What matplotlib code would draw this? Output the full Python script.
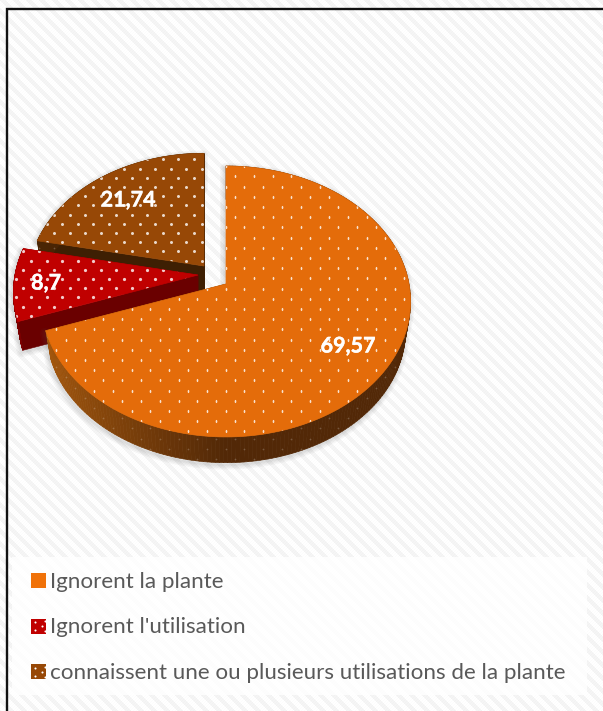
import numpy as np
import matplotlib
matplotlib.use("Agg")
import matplotlib.pyplot as plt
import matplotlib.patheffects as pe
from matplotlib.patches import Polygon, Rectangle
from matplotlib.collections import PolyCollection
from matplotlib.colors import to_rgb

# Survey shares, in percent
categories = ["Ignorent la plante", "Ignorent l'utilisation",
              "connaissent une ou plusieurs utilisations de la plante"]
values = [69.57, 8.7, 21.74]
value_labels = ["69,57", "8,7", "21,74"]

top_colors = ["#E46C0A", "#C00000", "#974806"]
cut_colors = ["#5A2C06", "#6A0000", "#3E1F03"]
wall_light = ["#A85A0E", "#7C0000", "#4A2504"]
wall_dark = ["#522807", "#5E0000", "#3A1C03"]

# Where each exploded slice has its apex, its scale and its dot spacing
apexes = [(226, 284), (198, 275), (204, 266)]
scales = [1.0, 1.0, 0.955]
dot_pitch = [(18.8, 10.2), (15.5, 9.2), (15.5, 9.2)]
dot_shape = [(0.85, 1.6), (1.6, 1.6), (1.5, 1.5)]
label_pos = [(348, 346), (46, 283), (128, 200)]

A, B, K = 183.0, 133.2, 0.129
DEPTH = 30.0
W, H = 603, 711


def project(angle, radius, apex, scale, lower=False):
    """Perspective projection of a point on the tilted pie disc."""
    u = radius * np.sin(angle)
    v = radius * np.cos(angle)
    d = 1 + K * v
    shrink = 0.972 if lower else 1.0
    x = apex[0] + scale * shrink * A * u / d
    y = apex[1] - scale * shrink * B * v / d + (DEPTH if lower else 0)
    return x, y


def mix(c1, c2, t):
    a, b = np.array(to_rgb(c1)), np.array(to_rgb(c2))
    return tuple(a + (b - a) * t)


fig = plt.figure(figsize=(W / 100, H / 100), dpi=100)
ax = fig.add_axes([0, 0, 1, 1])
ax.set_xlim(0, W)
ax.set_ylim(H, 0)
ax.axis("off")

# Diagonal woven background
yy, xx = np.mgrid[0:H, 0:W]
stripes = ((xx - yy) % 13 < 6).astype(float)
weave = ((xx + yy) % 3 == 0).astype(float)
bg = 1.0 - 0.042 * stripes - 0.012 * weave
ax.imshow(bg, cmap="gray", vmin=0, vmax=1, extent=(0, W, H, 0),
          interpolation="nearest", aspect="auto", zorder=0)

# Frame on the left and top only
ax.plot([6.5, 6.5, W], [H, 8.5, 8.5], color="#111111", lw=1.7,
        solid_joinstyle="miter", zorder=1)

# Legend panel
ax.add_patch(Rectangle((12, 557), 575, 138, fc="white", ec="none",
                       alpha=0.82, zorder=1))

cum = np.cumsum([0] + values) / sum(values) * 2 * np.pi
# Draw back to front: brown, red, orange
order = [2, 1, 0]

for z, i in enumerate(order):
    base = 3 + z * 3
    apex, s = apexes[i], scales[i]
    t = np.linspace(cum[i], cum[i + 1], 220)
    ox, oy = project(t, 1, apex, s)
    lx, ly = project(t, 1, apex, s, lower=True)
    top = np.column_stack([np.r_[apex[0], ox], np.r_[apex[1], oy]])
    low_apex = (apex[0], apex[1] + DEPTH)

    # Soft shadow from widening translucent outlines, nudged down and left
    shadow = np.column_stack([np.r_[apex[0], lx, ox[::-1]] - 1,
                              np.r_[apex[1] + DEPTH, ly, oy[::-1]] + 2])
    for w in (7, 5, 3, 1.5):
        ax.add_patch(Polygon(shadow, closed=True, fc="none", ec="#555555", lw=w,
                             alpha=0.05, joinstyle="round", zorder=base))

    # Cut faces leading back to the apex
    for k in (0, -1):
        cut = [(ox[k], oy[k]), (apex[0], apex[1]),
               (low_apex[0], low_apex[1]), (lx[k], ly[k])]
        ax.add_patch(Polygon(cut, closed=True, fc=cut_colors[i], ec=cut_colors[i],
                             lw=0.4, zorder=base + 0.1))

    # Rounded outer wall, shaded piece by piece
    quads, shades = [], []
    for j in range(len(t) - 1):
        quads.append([(ox[j], oy[j]), (ox[j + 1], oy[j + 1]),
                      (lx[j + 1], ly[j + 1]), (lx[j], ly[j])])
        frac = np.clip(np.sin(t[j]) + 1, 0, 1)
        shades.append(mix(wall_light[i], wall_dark[i], frac))
    ax.add_collection(PolyCollection(quads, facecolors=shades, edgecolors=shades,
                                     linewidths=0.5, zorder=base + 0.2))

    # Faint dots on the wall
    wall = Polygon(np.column_stack([np.r_[ox, lx[::-1]], np.r_[oy, ly[::-1]]]),
                   closed=True, transform=ax.transData, fc="none", ec="none")
    ax.add_patch(wall)
    px, py = dot_pitch[i]
    rows = np.arange(0, H, py)
    wx, wy = [], []
    for n, r in enumerate(rows):
        xs = np.arange((n % 2) * px / 2, W, px)
        wx.extend(xs)
        wy.extend(np.full(xs.shape, r))
    wall_dots = ax.scatter(wx, wy, s=1.6, c="white", alpha=0.22, linewidths=0,
                           zorder=base + 0.3)
    wall_dots.set_clip_path(wall)

    # Top face and its dotted texture
    face = Polygon(top, closed=True, fc=top_colors[i], ec=top_colors[i], lw=0.5,
                   zorder=base + 0.4)
    ax.add_patch(face)
    ew, eh = dot_shape[i]
    dot_marker = matplotlib.markers.MarkerStyle("o").get_path().transformed(
        matplotlib.transforms.Affine2D().scale(1, eh / ew))
    dots = ax.scatter(wx, np.array(wy) + 3, s=(2 * max(ew, eh) * 0.72) ** 2,
                      c="white", alpha=0.8, linewidths=0, zorder=base + 0.5,
                      marker=dot_marker)
    dots.set_clip_path(face)

# Value labels
for (x, y), lab in zip(label_pos, value_labels):
    ax.text(x, y, lab, color="white", fontsize=15.5, fontweight="bold",
            family=["Lato", "DejaVu Sans"], ha="center", va="center", zorder=20,
            path_effects=[pe.withStroke(linewidth=0.3, foreground="white")])

# Legend entries
legend_y = [580.5, 626, 671.5]
for i, (y, name) in enumerate(zip(legend_y, categories)):
    ax.add_patch(Rectangle((31, y - 7.5), 15, 15, fc=top_colors[i] if i else "#F07209",
                           ec="none", zorder=20))
    if i:
        for dx, dy in ((4, -4), (11, 0), (4, 4), (14, -5), (14, 5)):
            ax.plot(31 + dx, y + dy, "o", ms=1.5, mfc="white", mec="none", zorder=21)
    ax.text(50.5, y + 1.2, name, color="#595959", fontsize=16.1,
            family=["Lato", "DejaVu Sans"], ha="left", va="center", zorder=20)

fig.savefig("out.png", dpi=100)
